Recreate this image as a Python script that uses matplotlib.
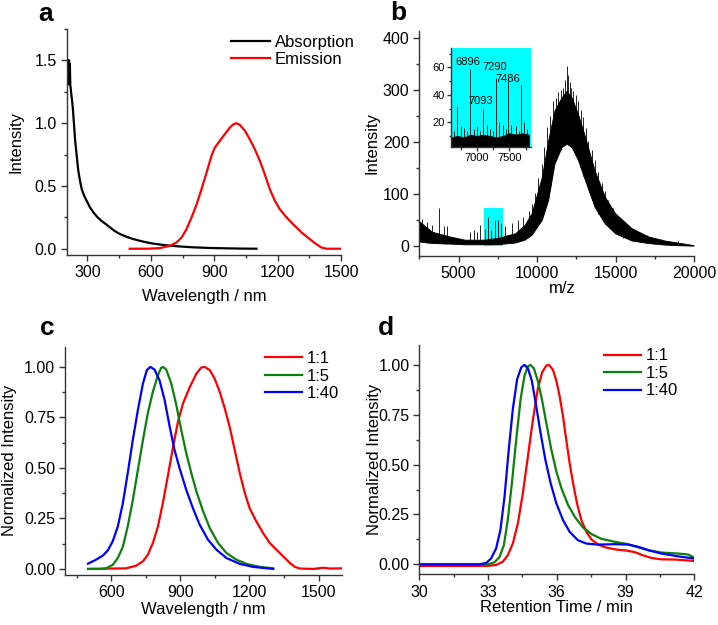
import matplotlib
matplotlib.use('Agg')
import matplotlib.pyplot as plt
from matplotlib.ticker import MultipleLocator, FormatStrFormatter
from matplotlib.patches import Rectangle

plt.rcParams['font.family'] = ['Liberation Sans', 'DejaVu Sans']
plt.rcParams['font.size'] = 12

# ---------------- Panel a ----------------
abs_wl = [205, 207, 209, 211, 213, 215, 217, 219, 221, 223, 226, 231, 237, 242, 250, 257, 265,
          273, 285, 297, 312, 328, 348, 368, 388, 407, 430, 454, 485, 517, 555, 596, 640, 691,
          745, 801, 880, 958, 1030, 1100]
abs_val = [1.50, 1.31, 1.50, 1.31, 1.50, 1.40, 1.47, 1.30, 1.28, 1.24, 1.20, 1.12, 0.98, 0.86,
           0.73, 0.62, 0.54, 0.475, 0.42, 0.38, 0.33, 0.29, 0.25, 0.22, 0.195, 0.17, 0.14,
           0.117, 0.095, 0.077, 0.06, 0.045, 0.034, 0.024, 0.017, 0.011, 0.006, 0.003, 0.001,
           0.0]
em_wl = [500, 580, 643, 691, 722, 746, 769, 793, 817, 840, 864, 887, 903, 927, 950, 974, 990,
         1005, 1021, 1045, 1068, 1092, 1116, 1139, 1163, 1187, 1210, 1242, 1273, 1313, 1352,
         1383, 1407, 1431, 1500]
em_val = [0.0, 0.0, 0.005, 0.024, 0.05, 0.09, 0.156, 0.25, 0.355, 0.475, 0.607, 0.74, 0.806,
          0.86, 0.912, 0.965, 0.99, 1.0, 0.987, 0.94, 0.873, 0.793, 0.70, 0.594, 0.475, 0.382,
          0.316, 0.25, 0.196, 0.13, 0.077, 0.037, 0.01, 0.0, 0.0]

# ---------------- Panel b ----------------
ms_mz = [2500, 3300, 4400, 5400, 6500, 7500, 8600, 9200, 9650, 10300, 10700, 11100, 11550,
         11870, 12200, 12600, 13050, 13650, 14300, 14950, 16000, 17050, 18100, 19150, 19950]
ms_low = [8, 5, 4, 2.5, 2.5, 3, 6, 11.5, 21, 50, 88, 158, 190, 197, 190, 165, 126, 75, 43,
          24, 10, 5, 2, 0.6, 0]
ms_high = [47, 27, 18, 11.5, 11.5, 15, 24, 40, 63, 133, 203, 261, 286, 299, 286, 254, 210,
           146, 95, 63, 34, 18, 10, 5, 1]
spike_mz = [2700, 3000, 3300, 3730, 4076, 4260, 5740, 5950, 6160, 6375, 6699, 6896, 7093,
            7290, 7486, 7683, 7960, 8390, 8810, 9130, 9450, 9650, 9870, 10080, 10290, 10450,
            10610, 10820, 11030, 11200, 11340, 11500, 11660, 11760, 11870, 11970, 12080,
            12180, 12290, 12450, 12610, 12770, 12930, 13090, 13250, 13460, 13670, 13880,
            14100, 14310, 14520, 14800, 15150, 15470, 15790, 16200, 16630, 17000, 17470,
            17900, 18950]
spike_h = [52, 45, 40, 72, 38, 37, 27, 31, 27, 40, 32, 56, 30, 50, 50, 43, 37, 43, 50, 56, 66,
           80, 101, 130, 158, 190, 229, 250, 280, 285, 296, 300, 305, 320, 347, 330, 315, 305,
           299, 290, 280, 262, 248, 228, 203, 185, 165, 142, 120, 105, 88, 72, 56, 45, 37, 30,
           24, 20, 15, 12, 8]
spike_base = [7, 6, 5, 5, 4, 4, 2.5, 2.5, 2.5, 2.5, 2.5, 3, 3, 3, 3, 4, 4, 5, 8, 11, 16, 22,
              30, 40, 50, 65, 80, 110, 150, 165, 175, 185, 192, 195, 197, 196, 193, 191, 188,
              178, 165, 150, 135, 122, 110, 92, 75, 62, 52, 44, 37, 28, 20, 15, 12, 9, 7, 6,
              4, 3, 1]
inset_mz = [6600, 6700, 6800, 6900, 7000, 7100, 7200, 7300, 7400, 7500, 7600, 7700, 7800]
inset_top = [9, 10, 9, 11, 10, 11, 10, 9, 10, 12, 11, 12, 11]
inset_spike_mz = [6650, 6699, 6750, 6800, 6850, 6896, 6950, 7000, 7050, 7093, 7150, 7200,
                  7250, 7290, 7340, 7400, 7450, 7486, 7530, 7600, 7650, 7683, 7730, 7770]
inset_spike_h = [14, 32, 17, 16, 14, 58.5, 15, 17, 14, 30, 18, 15, 14, 52, 20, 18, 15, 50,
                 18, 17, 14, 47, 20, 15]
peak_labels = ['6896', '7093', '7290', '7486']
peak_label_x = [6666, 6866, 7077, 7293]
peak_label_y = [64, 35.6, 60, 51.6]

# ---------------- Panel c ----------------
c_labels = ['1:1', '1:5', '1:40']
c1_wl = [500, 665, 709, 738, 759, 781, 803, 825, 846, 868, 890, 912, 941, 970, 991, 1006,
         1028, 1049, 1071, 1093, 1114, 1136, 1158, 1180, 1201, 1230, 1259, 1288, 1317, 1346,
         1375, 1397, 1419, 1477, 1520, 1549, 1600]
c1_val = [0.0, 0.003, 0.016, 0.038, 0.07, 0.128, 0.21, 0.33, 0.46, 0.60, 0.73, 0.82, 0.90,
          0.967, 0.997, 1.0, 0.984, 0.942, 0.877, 0.794, 0.704, 0.589, 0.474, 0.375, 0.30,
          0.235, 0.178, 0.128, 0.095, 0.0625, 0.03, 0.01, 0.002, 0.0, 0.006, 0.002, 0.003]
c2_wl = [500, 549, 578, 607, 629, 651, 672, 694, 716, 738, 759, 781, 803, 817, 825, 839, 861,
         883, 904, 926, 948, 970, 999, 1028, 1064, 1100, 1143, 1187, 1245, 1303]
c2_val = [0.0, 0.0, 0.003, 0.02, 0.054, 0.11, 0.21, 0.34, 0.49, 0.638, 0.77, 0.877, 0.959,
          0.995, 1.0, 0.987, 0.918, 0.81, 0.688, 0.572, 0.474, 0.383, 0.285, 0.202, 0.128,
          0.079, 0.046, 0.025, 0.01, 0.003]
c3_wl = [500, 535, 564, 586, 607, 629, 651, 672, 694, 716, 738, 755, 770, 788, 810, 832, 854,
         875, 897, 926, 955, 984, 1020, 1057, 1100, 1158, 1216, 1303]
c3_val = [0.026, 0.046, 0.066, 0.092, 0.137, 0.21, 0.326, 0.474, 0.638, 0.786, 0.918, 0.984,
          1.0, 0.987, 0.934, 0.836, 0.704, 0.589, 0.498, 0.391, 0.30, 0.219, 0.145, 0.095,
          0.054, 0.025, 0.01, 0.0]

# ---------------- Panel d ----------------
d1_t = [30, 32.99, 33.35, 33.64, 33.86, 34.08, 34.3, 34.52, 34.74, 34.96, 35.17, 35.36, 35.54,
        35.66, 35.83, 35.98, 36.12, 36.27, 36.41, 36.56, 36.71, 36.88, 37.07, 37.29, 37.51,
        37.8, 38.16, 38.6, 39.04, 39.4, 39.77, 40.13, 40.57, 41.15, 42]
d1_v = [-0.008, -0.008, -0.003, 0.013, 0.045, 0.104, 0.205, 0.357, 0.542, 0.727, 0.879, 0.963,
        0.997, 1.0, 0.976, 0.921, 0.845, 0.744, 0.626, 0.508, 0.407, 0.306, 0.222, 0.163,
        0.125, 0.099, 0.084, 0.074, 0.069, 0.061, 0.045, 0.032, 0.025, 0.024, 0.017]
d2_t = [30, 32.99, 33.28, 33.5, 33.69, 33.86, 34.04, 34.23, 34.42, 34.59, 34.74, 34.85, 35.0,
        35.17, 35.35, 35.54, 35.76, 35.98, 36.2, 36.49, 36.78, 37.14, 37.51, 37.94, 38.53,
        39.11, 39.48, 39.99, 40.57, 41.3, 41.73, 42]
d2_v = [0.0, 0.0, 0.01, 0.037, 0.096, 0.222, 0.407, 0.626, 0.828, 0.946, 0.993, 1.0, 0.983,
        0.921, 0.828, 0.71, 0.576, 0.466, 0.382, 0.298, 0.239, 0.185, 0.152, 0.128, 0.113,
        0.101, 0.088, 0.071, 0.059, 0.054, 0.049, 0.034]
d3_t = [30, 32.62, 32.92, 33.13, 33.35, 33.54, 33.72, 33.89, 34.08, 34.27, 34.45, 34.59,
        34.74, 34.91, 35.1, 35.29, 35.5, 35.73, 35.98, 36.27, 36.56, 36.92, 37.29, 37.8,
        38.53, 39.11, 39.55, 39.99, 40.57, 41.3, 42]
d3_v = [0.0, 0.0, 0.007, 0.029, 0.079, 0.172, 0.34, 0.559, 0.778, 0.929, 0.988, 1.0, 0.983,
        0.921, 0.795, 0.66, 0.525, 0.407, 0.306, 0.222, 0.163, 0.121, 0.104, 0.099, 0.101,
        0.099, 0.088, 0.071, 0.054, 0.04, 0.029]

RED, GREEN, BLUE = '#FF0000', '#0B800B', '#0000FF'
SPINE = '#333333'
TICK_FS = 11.5

W, H = 718, 625
fig = plt.figure(figsize=(W / 100, H / 100), dpi=100)


def add_axes(l, t, r, b):
    return fig.add_axes([l / W, 1 - b / H, (r - l) / W, (b - t) / H])


def style(ax, size=TICK_FS, major=4, minor=2.5, xpad=3.5, ypad=3):
    for s in ['top', 'right']:
        ax.spines[s].set_visible(False)
    for s in ['left', 'bottom']:
        ax.spines[s].set_color(SPINE)
        ax.spines[s].set_linewidth(1.0)
    ax.tick_params(which='major', direction='out', length=major, width=1, color=SPINE,
                   labelsize=size)
    ax.tick_params(which='minor', direction='out', length=minor, width=1, color=SPINE)
    ax.tick_params(axis='x', which='major', pad=xpad)
    ax.tick_params(axis='y', which='major', pad=ypad)


axa = add_axes(66.7, 29, 341, 255)
axb = add_axes(419.3, 30.7, 694.3, 256)
axc = add_axes(65, 346.7, 341.7, 575)
axd = add_axes(419.3, 345, 694.3, 574.3)

leg_kw = dict(loc='upper left', frameon=False, borderpad=0, borderaxespad=0,
              handletextpad=0.3, fontsize=12)

# ---- a ----
style(axa)
axa.plot(abs_wl, abs_val, color='black', lw=1.6, label='Absorption')
axa.plot(em_wl, em_val, color=RED, lw=1.6, label='Emission')
axa.set_xlim(202, 1500)
axa.set_ylim(-0.05, 1.75)
axa.xaxis.set_major_locator(MultipleLocator(300))
axa.xaxis.set_minor_locator(MultipleLocator(150))
axa.yaxis.set_major_locator(MultipleLocator(0.5))
axa.yaxis.set_minor_locator(MultipleLocator(0.25))
axa.yaxis.set_major_formatter(FormatStrFormatter('%.1f'))
axa.set_xlabel('Wavelength / nm')
axa.set_ylabel('Intensity')
axa.yaxis.set_label_coords(-0.158, 0.5)
axa.xaxis.set_label_coords(0.5, -0.15)
axa.legend(bbox_to_anchor=(0.60, 0.975), handlelength=2.3, labelspacing=0.12, **leg_kw)

# ---- b ----
style(axb)
axb.add_patch(Rectangle((6630, 0), 7830 - 6630, 73, facecolor='#00FFFF', edgecolor='none',
                        zorder=1))
axb.fill_between(ms_mz, ms_low, ms_high, color='black', lw=0.6, zorder=2)
axb.vlines(spike_mz, spike_base, spike_h, color='black', lw=0.6, zorder=2)
axb.set_xlim(2500, 20000)
axb.set_ylim(-20, 415)
axb.xaxis.set_major_locator(MultipleLocator(5000))
axb.xaxis.set_minor_locator(MultipleLocator(2500))
axb.yaxis.set_major_locator(MultipleLocator(100))
axb.yaxis.set_minor_locator(MultipleLocator(50))
axb.set_xlabel('m/z')
axb.set_ylabel('Intensity')
axb.yaxis.set_label_coords(-0.143, 0.5)
axb.xaxis.set_label_coords(0.52, -0.11)

axi = add_axes(451, 48, 530.7, 147)
style(axi, size=8, major=3, minor=1.8, xpad=1.5, ypad=1.5)
axi.set_facecolor('#00FFFF')
axi.fill_between(inset_mz, 2, inset_top, color='black', lw=0.6)
axi.vlines(inset_spike_mz, 2, inset_spike_h, color='black', lw=0.6)
axi.set_xlim(6600, 7830)
axi.set_ylim(2, 74)
axi.xaxis.set_major_locator(MultipleLocator(500))
axi.xaxis.set_minor_locator(MultipleLocator(250))
axi.yaxis.set_major_locator(MultipleLocator(20))
axi.yaxis.set_minor_locator(MultipleLocator(10))
for lab, x, y in zip(peak_labels, peak_label_x, peak_label_y):
    axi.text(x, y, lab, fontsize=8, ha='left', va='center')

# ---- c ----
style(axc)
for wl, v, col, lab in zip([c1_wl, c2_wl, c3_wl], [c1_val, c2_val, c3_val],
                           [RED, GREEN, BLUE], c_labels):
    axc.plot(wl, v, color=col, lw=1.6, label=lab)
axc.set_xlim(400, 1600)
axc.set_ylim(-0.03, 1.1)
axc.xaxis.set_major_locator(MultipleLocator(300))
axc.xaxis.set_minor_locator(MultipleLocator(150))
axc.yaxis.set_major_locator(MultipleLocator(0.25))
axc.yaxis.set_minor_locator(MultipleLocator(0.125))
axc.yaxis.set_major_formatter(FormatStrFormatter('%.2f'))
axc.set_xlabel('Wavelength / nm')
axc.set_ylabel('Normalized Intensity')
axc.yaxis.set_label_coords(-0.175, 0.5)
axc.xaxis.set_label_coords(0.5, -0.118)
axc.legend(bbox_to_anchor=(0.723, 0.98), handlelength=2.2, labelspacing=0.15, **leg_kw)

# ---- d ----
style(axd)
for t, v, col, lab in zip([d1_t, d2_t, d3_t], [d1_v, d2_v, d3_v],
                          [RED, GREEN, BLUE], c_labels):
    axd.plot(t, v, color=col, lw=1.6, label=lab)
axd.set_xlim(30, 42)
axd.set_ylim(-0.05, 1.1)
axd.xaxis.set_major_locator(MultipleLocator(3))
axd.xaxis.set_minor_locator(MultipleLocator(1.5))
axd.yaxis.set_major_locator(MultipleLocator(0.25))
axd.yaxis.set_minor_locator(MultipleLocator(0.125))
axd.yaxis.set_major_formatter(FormatStrFormatter('%.2f'))
axd.set_xlabel('Retention Time / min')
axd.set_ylabel('Normalized Intensity')
axd.yaxis.set_label_coords(-0.137, 0.5)
axd.xaxis.set_label_coords(0.5, -0.112)
axd.legend(bbox_to_anchor=(0.672, 0.985), handlelength=2.2, labelspacing=0.15, **leg_kw)

# panel letters
for letter, x, y in [('a', 38, 20.7), ('b', 390, 20), ('c', 40, 335), ('d', 378, 335)]:
    fig.text(x / W, 1 - y / H, letter, fontsize=19, fontweight='bold', ha='left',
             va='baseline')

fig.savefig('out.png', dpi=100)
